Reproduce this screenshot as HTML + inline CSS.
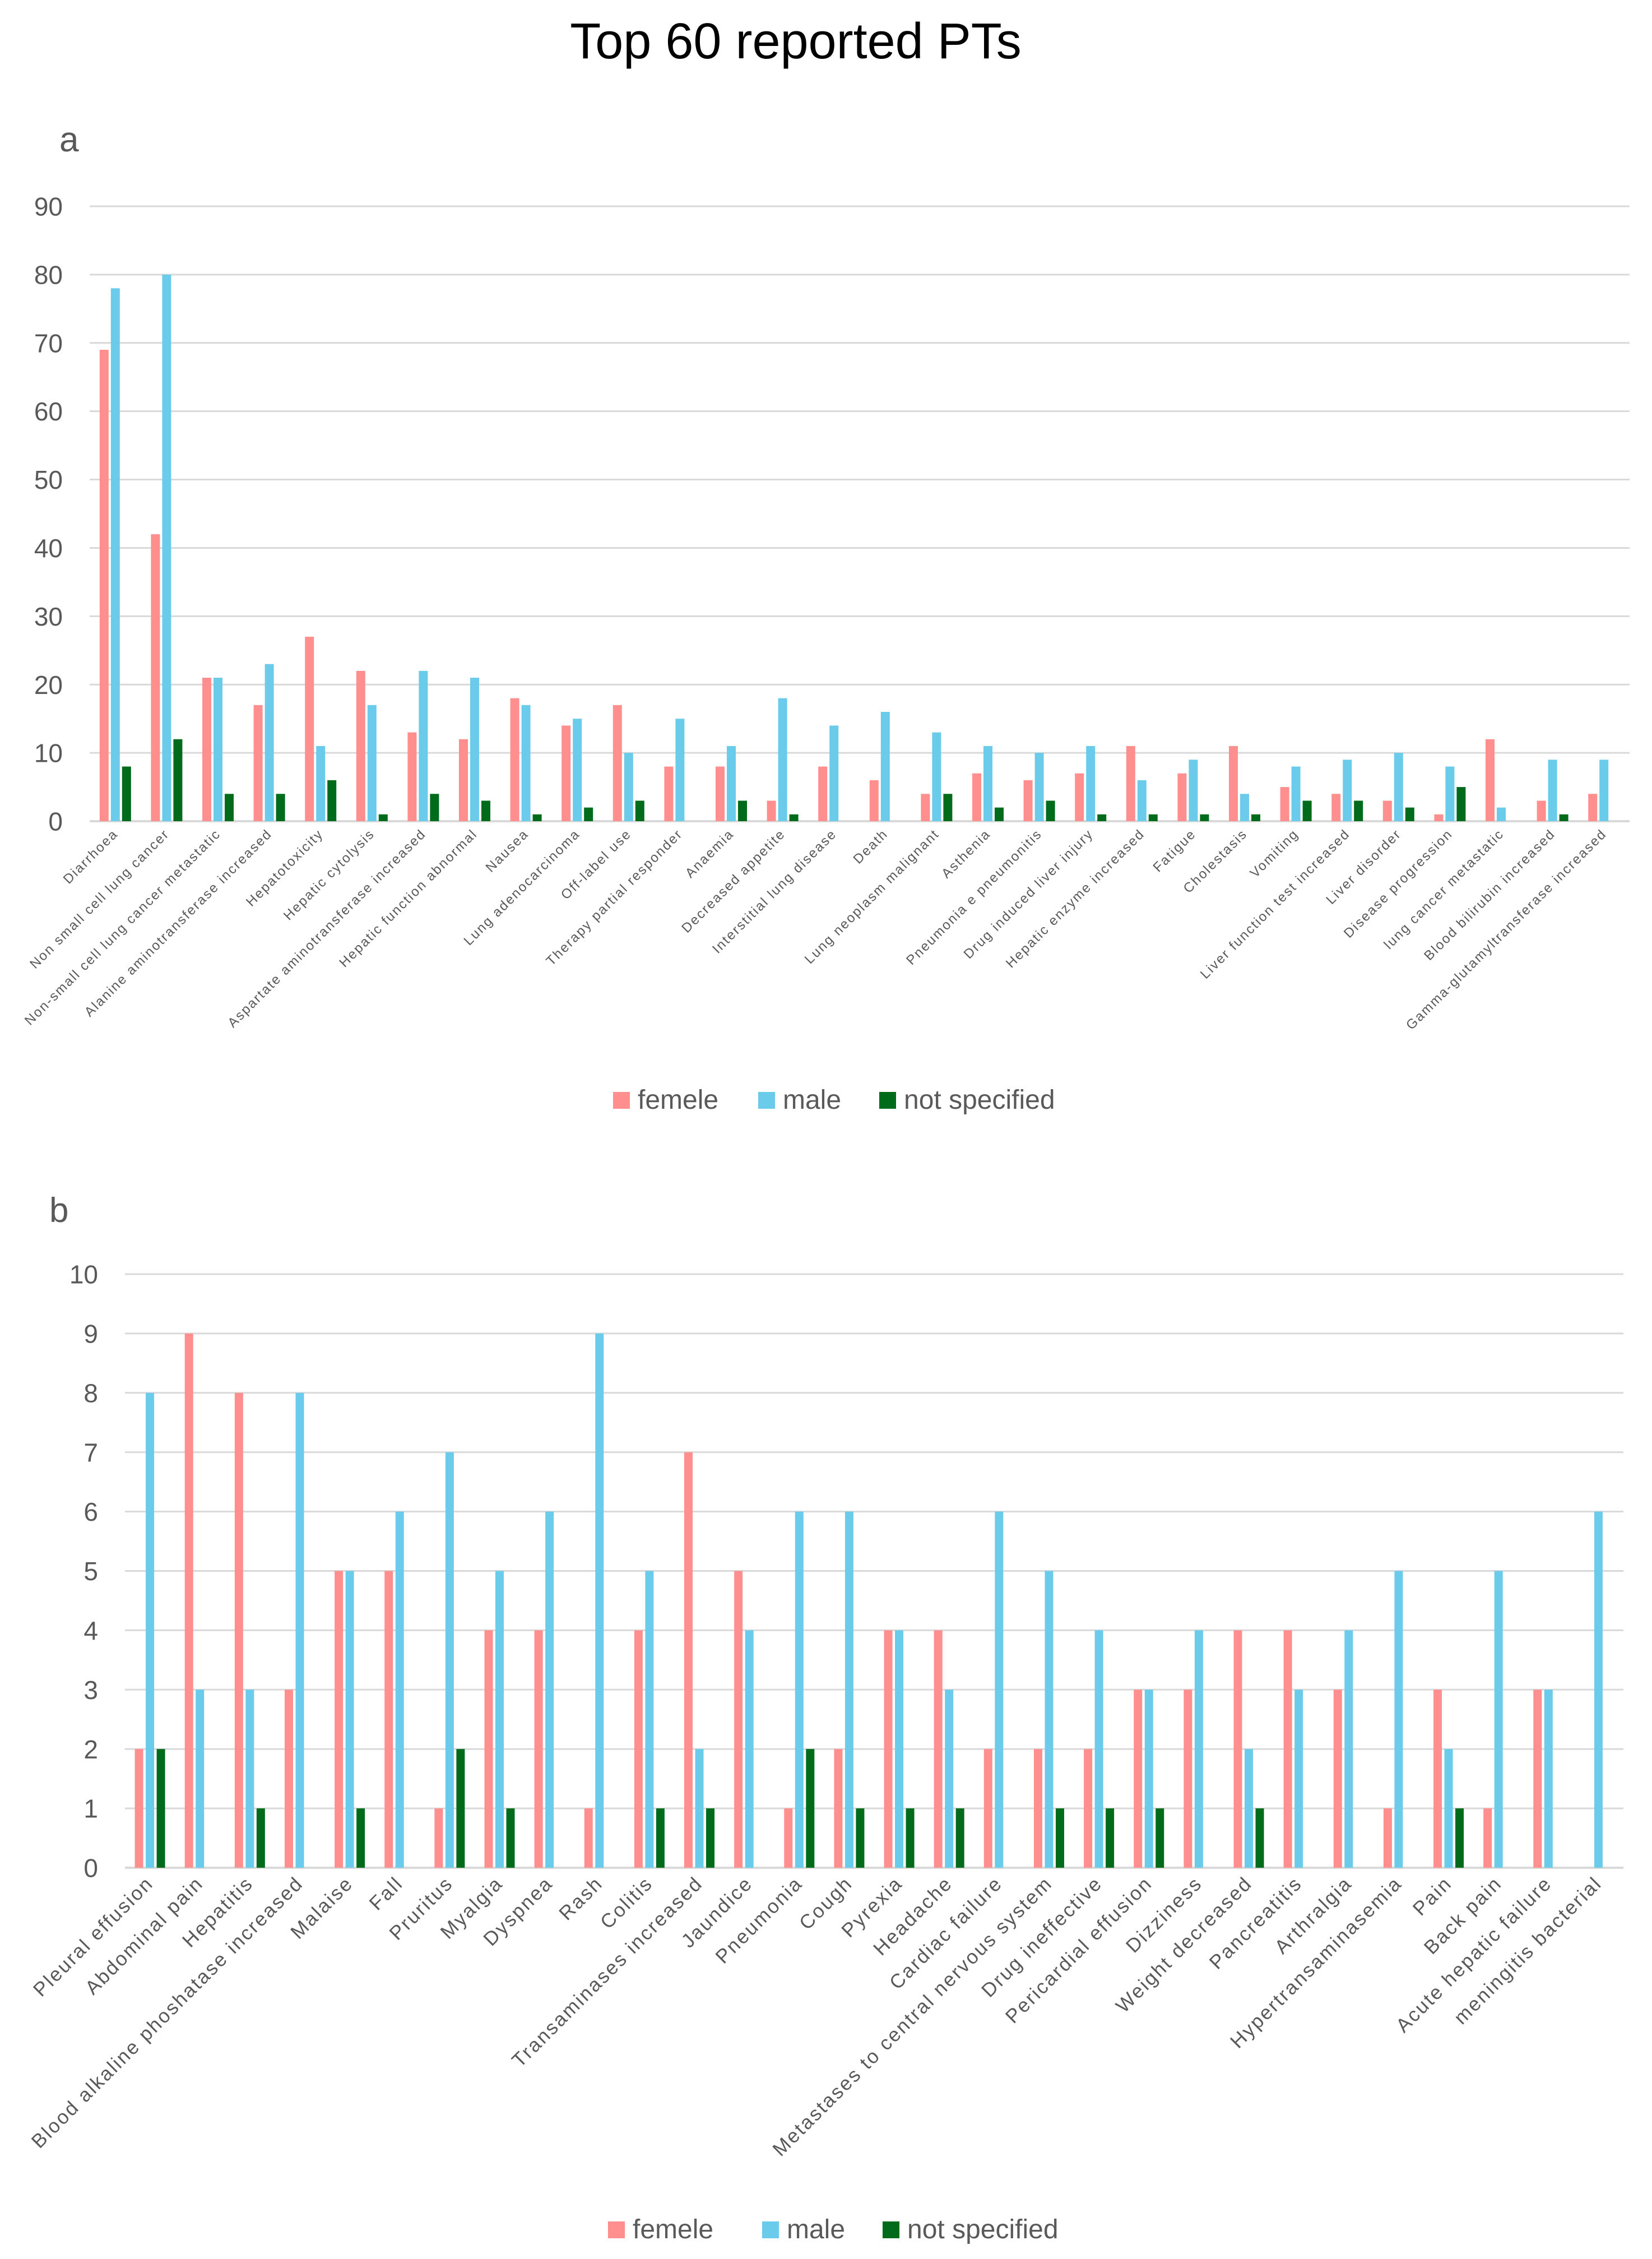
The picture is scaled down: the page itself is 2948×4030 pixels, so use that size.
<!DOCTYPE html>
<html><head><meta charset="utf-8"><style>
html,body{margin:0;padding:0;background:#fff;}
svg{display:block;font-family:"Liberation Sans",sans-serif;}
</style></head><body>
<svg id="chart" width="2948" height="4030" viewBox="0 0 2948 4030" xmlns="http://www.w3.org/2000/svg">
<text x="1420" y="104" font-size="90" text-anchor="middle" fill="#000">Top 60 reported PTs</text>
<text x="106" y="270" font-size="62" fill="#595959">a</text>
<text x="88" y="2180" font-size="62" fill="#595959">b</text>
<g id="ga"></g>
<g id="gb"></g>
</svg>
<script>
const catsA = ["Diarrhoea","Non small cell lung cancer","Non-small cell lung cancer metastatic","Alanine aminotransferase increased","Hepatotoxicity","Hepatic cytolysis","Aspartate aminotransferase increased","Hepatic function abnormal","Nausea","Lung adenocarcinoma","Off-label use","Therapy partial responder","Anaemia","Decreased appetite","Interstitial lung disease","Death","Lung neoplasm malignant","Asthenia","Pneumonia e pneumonitis","Drug induced liver injury","Hepatic enzyme increased","Fatigue","Cholestasis","Vomiting","Liver function test increased","Liver disorder","Disease progression","lung cancer metastatic","Blood bilirubin increased","Gamma-glutamyltransferase increased"];
const femaleA = [69,42,21,17,27,22,13,12,18,14,17,8,8,3,8,6,4,7,6,7,11,7,11,5,4,3,1,12,3,4];
const maleA = [78,80,21,23,11,17,22,21,17,15,10,15,11,18,14,16,13,11,10,11,6,9,4,8,9,10,8,2,9,9];
const nsA = [8,12,4,4,6,1,4,3,1,2,3,0,3,1,0,0,4,2,3,1,1,1,1,3,3,2,5,0,1,0];
const ticksA = [0,10,20,30,40,50,60,70,80,90];

const catsB = ["Pleural effusion","Abdominal pain","Hepatitis","Blood alkaline phoshatase increased","Malaise","Fall","Pruritus","Myalgia","Dyspnea","Rash","Colitis","Transaminases increased","Jaundice","Pneumonia","Cough","Pyrexia","Headache","Cardiac failure","Metastases to central nervous system","Drug ineffective","Pericardial effusion","Dizziness","Weight decreased","Pancreatitis","Arthralgia","Hypertransaminasemia","Pain","Back pain","Acute hepatic failure","meningitis bacterial"];
const femaleB = [2,9,8,3,5,5,1,4,4,1,4,7,5,1,2,4,4,2,2,2,3,3,4,4,3,1,3,1,3,0];
const maleB = [8,3,3,8,5,6,7,5,6,9,5,2,4,6,6,4,3,6,5,4,3,4,2,3,4,5,2,5,3,6];
const nsB = [2,0,1,0,1,0,2,1,0,0,1,1,0,2,1,1,1,0,1,1,1,0,1,0,0,0,1,0,0,0];
const ticksB = [0,1,2,3,4,5,6,7,8,9,10];
const seriesNames = ["femele","male","not specified"];

const NS = "http://www.w3.org/2000/svg";
const colors = ["#FF8F8F","#6BCBEA","#006B1A"];
function mk(tag, attrs, parent){const e=document.createElementNS(NS,tag);for(const k in attrs)e.setAttribute(k,attrs[k]);parent.appendChild(e);return e;}

function draw(g, cfg){
  const {cats, series, ticks, x0, x1, y0, yTop, max, barW, step, tickFs, catFs, legendY, legendX, id} = cfg;
  const y = v => y0 - (v/max)*(y0-yTop);
  const cw = (x1-x0)/cats.length;
  const cx = i => x0 + cw*(i+0.5);
  ticks.forEach(t=>{
    const ln = mk("line",{x1:x0,x2:x1,y1:y(t),y2:y(t),stroke:"#d9d9d9","stroke-width":t===0?4:3},g);
    
    
    const tx = mk("text",{x:x0-48,y:y(t)+tickFs*0.36,"font-size":tickFs,"text-anchor":"end",fill:"#595959"},g);
    tx.textContent = t;
    
    
  });
  cats.forEach((c,i)=>{
    series.forEach((s,k)=>{
      const v = s[i]; if(v<=0) return;
      const bx = cx(i) + (k-1)*step - barW/2;
      const r = mk("rect",{x:bx,y:y(v),width:barW,height:y0-y(v),fill:colors[k]},g);
      
      
    });
    const lx = cx(i)+cfg.labDx, ly = y0+cfg.labDy;
    const t = mk("text",{x:lx,y:ly,"font-size":catFs,"letter-spacing":cfg.ls,"text-anchor":"end",fill:"#595959",transform:`rotate(-45 ${lx} ${ly})`},g);
    t.textContent = c;
    
    
  });
  seriesNames.forEach((n,k)=>{
    const r = mk("rect",{x:legendX[k],y:legendY-30,width:30,height:30,fill:colors[k]},g);
    
    
    const t = mk("text",{x:legendX[k]+44,y:legendY,"font-size":48,fill:"#595959"},g);
    t.textContent = n;
    
    
  });
}
draw(document.getElementById("ga"),{id:"a",cats:catsA,series:[femaleA,maleA,nsA],ticks:ticksA,x0:160,x1:2908,y0:1465,yTop:368,max:90,barW:16,step:20,tickFs:46,catFs:24,ls:2.3,labDx:6,labDy:24,legendY:1978,legendX:[1094,1353,1569]});
draw(document.getElementById("gb"),{id:"b",cats:catsB,series:[femaleB,maleB,nsB],ticks:ticksB,x0:223,x1:2897,y0:3332,yTop:2273,max:10,barW:15,step:19.5,tickFs:46,catFs:35,ls:2.8,labDx:8,labDy:30,legendY:3993,legendX:[1085,1360,1575]});
</script>
</body></html>
